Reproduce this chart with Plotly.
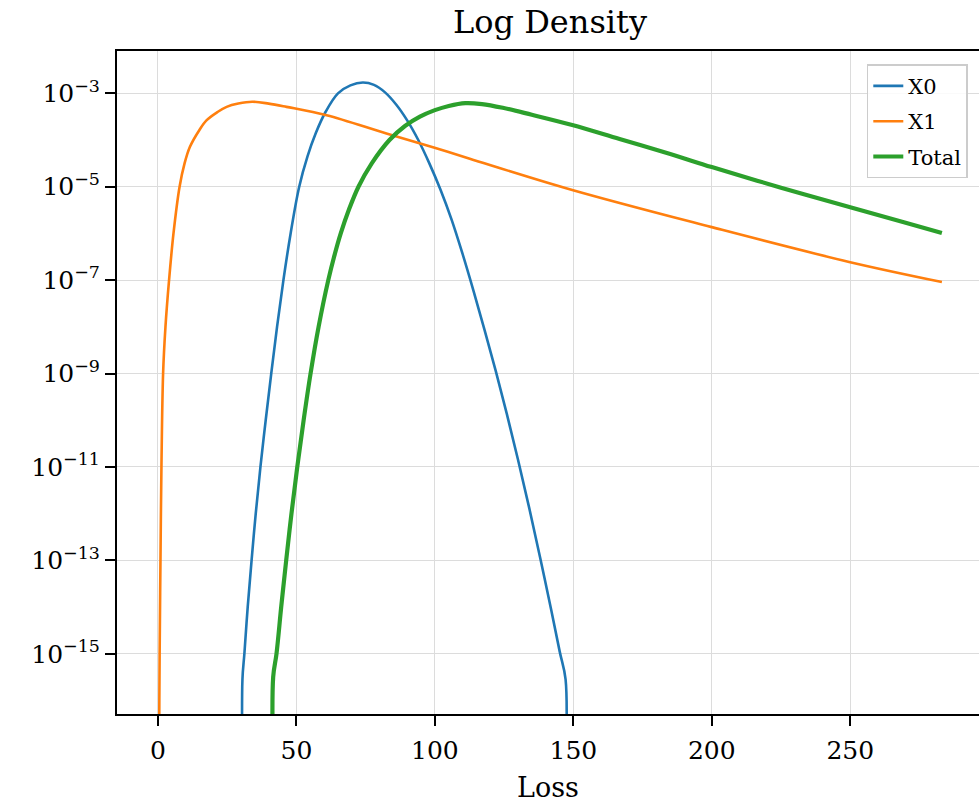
import numpy as np
import plotly.graph_objects as go

# ---- data (x = Loss, values as log10 of density) ----
x0_loss = [30.5, 30.5, 31.2, 32.4, 33.8, 35.3, 37.0, 38.9, 40.9, 43.0, 45.3, 47.9, 51.0,
           54.0, 57.0, 60.5, 65.0, 69.5, 74.0, 78.0, 82.0, 86.0, 90.0, 94.0, 98.0,
           102.0, 106.0, 110.0, 114.0, 118.0, 122.0, 126.0, 130.0, 134.0, 138.0,
           142.0, 145.1, 147.2, 147.2]
x0_log10 = [-17.5, -15.55, -15, -14, -13, -12, -11, -10, -9, -8, -7, -6, -5,
            -4.35, -3.85, -3.40, -3.0, -2.83, -2.77, -2.82, -2.98, -3.24, -3.58, -4.0, -4.5,
            -5.06, -5.7, -6.44, -7.24, -8.08, -8.95, -9.87, -10.84, -11.86, -12.94,
            -14.06, -14.96, -15.55, -17.5]

x1_loss = [0.42, 0.47, 0.6, 0.9, 1.25, 1.85, 2.7, 4.0, 5.6, 7.8, 9.6, 11.5, 14.8, 17.5,
           21.5, 24.8, 29.0, 34.0, 40.0, 46.4, 60.9, 82.5, 99.6, 112.6, 149.6, 199.6,
           249.6, 283.1]
x1_log10 = [-17.5, -16.3, -15, -13, -11, -9, -8, -7, -6, -5, -4.5, -4.15, -3.8, -3.58,
            -3.4, -3.29, -3.22, -3.18, -3.22, -3.29, -3.47, -3.86, -4.16, -4.40, -5.07, -5.86,
            -6.61, -7.04]

total_loss = [41.6, 41.6, 42.8, 44.5, 46.3, 48.2, 50.3, 52.6, 55.1, 58.0, 61.5, 63.6,
              66.0, 68.9, 72.4, 77.2, 83.6, 89.2, 94.6, 100.0, 105.0, 111.0, 117.0, 124.5,
              135.0, 149.6, 166.7, 185.0, 200.0, 225.0, 250.0, 270.0, 283.1]
total_log10 = [-17.5, -15.5, -15, -14, -13, -12, -11, -10, -9, -8, -7, -6.5,
               -6.0, -5.5, -5.0, -4.5, -4.0, -3.7, -3.5, -3.36, -3.27, -3.21, -3.23, -3.31,
               -3.46, -3.68, -3.98, -4.3, -4.58, -5.02, -5.44, -5.77, -5.99]

series_names = ["X0", "X1", "Total"]
x_ticks = [0, 50, 100, 150, 200, 250]
y_tick_exps = [-3, -5, -7, -9, -11, -13, -15]

colors = ["#1f77b4", "#ff7f0e", "#2ca02c"]
widths = [2.6, 2.6, 4.2]

fig = go.Figure()
for name, xs, ls, c, w in zip(series_names,
                              [x0_loss, x1_loss, total_loss],
                              [x0_log10, x1_log10, total_log10],
                              colors, widths):
    fig.add_trace(go.Scatter(x=xs, y=np.power(10.0, np.array(ls)), mode="lines",
                             name=name, legendgroup=name,
                             line=dict(color=c, width=w, shape="spline", smoothing=1.0)))

FONT = "DejaVu Serif"
fig.update_layout(
    width=979, height=803,
    margin=dict(l=117, r=0, t=51, b=89),
    paper_bgcolor="white", plot_bgcolor="white",
    font=dict(family=FONT, color="black", size=25),
    title=dict(text="Log Density", x=550 / 979, xanchor="center", xref="container",
               y=1 - 22 / 803, yanchor="middle", yref="container",
               font=dict(family=FONT, size=32, color="black")),
    legend=dict(x=0.987, y=0.98, xanchor="right", yanchor="top",
                bgcolor="rgba(255,255,255,0.85)", bordercolor="#cccccc", borderwidth=1.5,
                font=dict(family=FONT, size=21, color="black"), tracegroupgap=5),
    showlegend=True,
)
fig.update_xaxes(
    range=[-14.8, 296.5], tickvals=x_ticks, ticktext=[str(v) for v in x_ticks],
    ticks="outside", ticklen=10, tickwidth=2, tickcolor="black",
    showline=True, linewidth=2, linecolor="black", mirror=True,
    showgrid=True, gridcolor="#dcdcdc", gridwidth=1, zeroline=False,
    tickfont=dict(family=FONT, size=25, color="black"), ticklabelstandoff=3,
    title=dict(text="Loss", font=dict(family=FONT, size=27, color="black"), standoff=22),
    automargin=False,
)
fig.update_yaxes(
    type="log", range=[-16.29, -2.094],
    tickvals=[10.0 ** e for e in y_tick_exps],
    ticktext=["10<sup>\u2212%d</sup>" % (-e) for e in y_tick_exps],
    ticks="outside", ticklen=10, tickwidth=2, tickcolor="black",
    showline=True, linewidth=2, linecolor="black", mirror=False,
    showgrid=True, gridcolor="#dcdcdc", gridwidth=1, zeroline=False,
    tickfont=dict(family=FONT, size=25, color="black"),
    automargin=False,
)

fig.write_html("out.html")
